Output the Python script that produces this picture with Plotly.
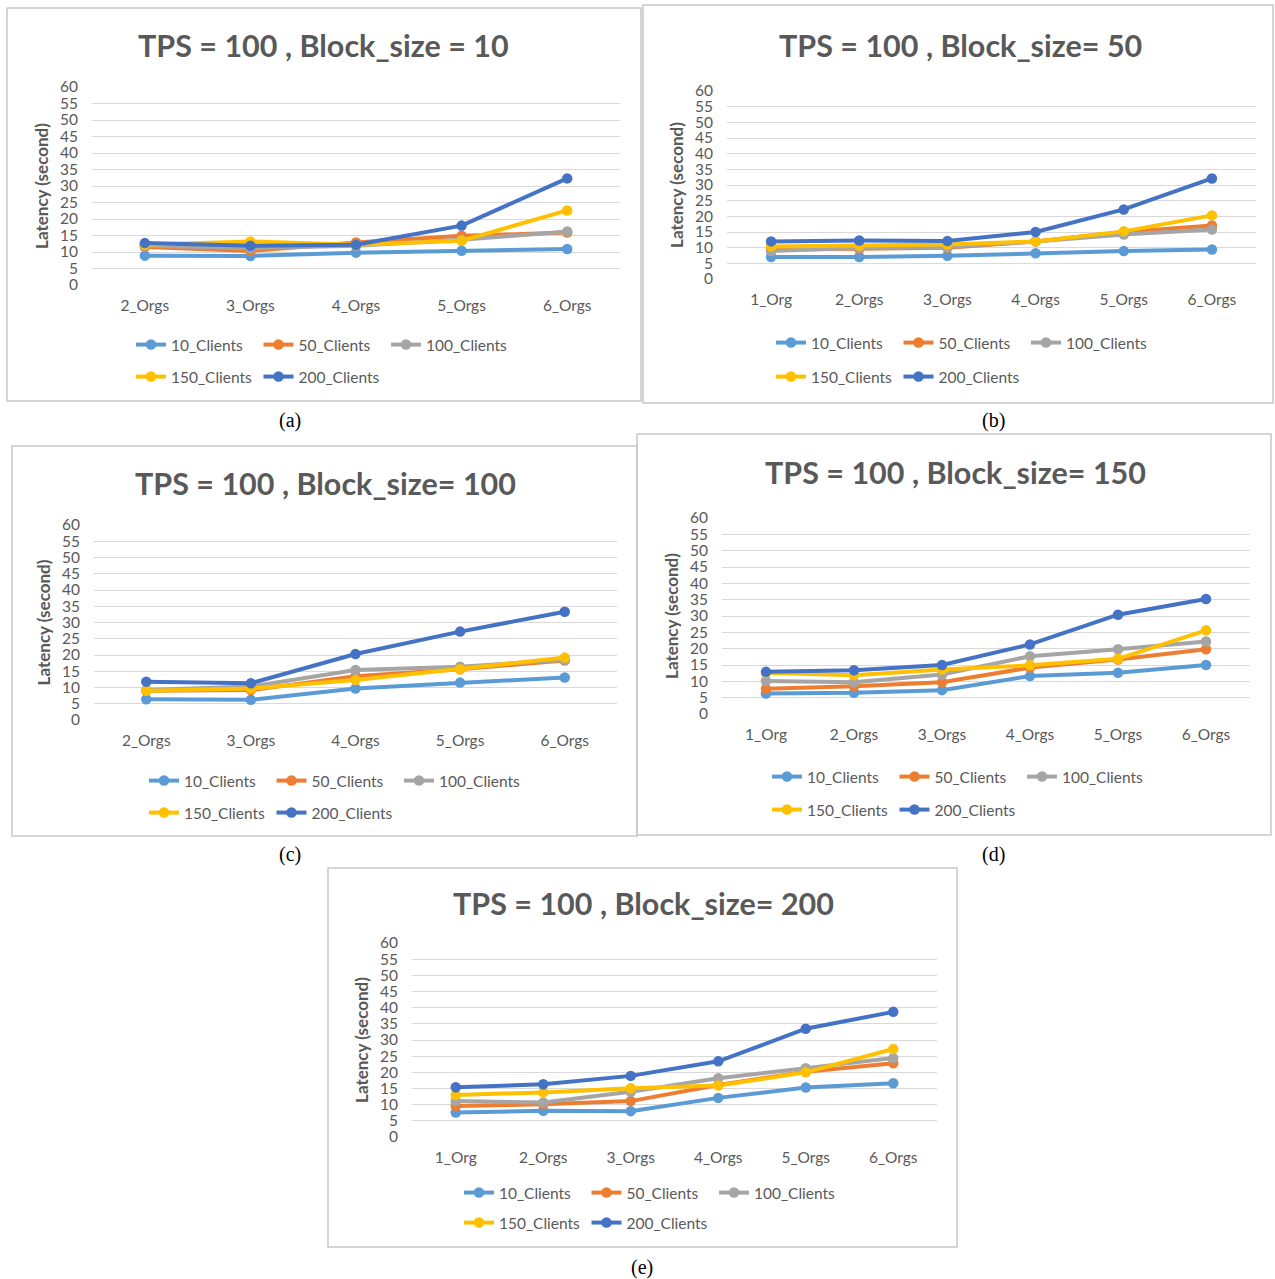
import plotly.graph_objects as go

W, H = 1275, 1279

# ---------------- data ----------------
orgs5 = ["2_Orgs", "3_Orgs", "4_Orgs", "5_Orgs", "6_Orgs"]
orgs6 = ["1_Org", "2_Orgs", "3_Orgs", "4_Orgs", "5_Orgs", "6_Orgs"]
series_names = ["10_Clients", "50_Clients", "100_Clients", "150_Clients", "200_Clients"]
y_ticks = [0, 5, 10, 15, 20, 25, 30, 35, 40, 45, 50, 55, 60]

# (a) Block_size = 10
a_10c = [8.9, 8.8, 9.8, 10.4, 10.9]
a_50c = [11.5, 10.3, 12.9, 14.9, 15.9]
a_100c = [11.9, 11.2, 11.9, 13.7, 16.2]
a_150c = [12.2, 13.2, 12.2, 13.4, 22.6]
a_200c = [12.7, 11.9, 12.2, 18.0, 32.3]

# (b) Block_size = 50
b_10c = [7.0, 7.0, 7.4, 8.2, 8.9, 9.4]
b_50c = [9.3, 9.6, 10.0, 12.0, 15.0, 17.1]
b_100c = [8.9, 10.0, 10.2, 12.0, 14.2, 15.8]
b_150c = [10.4, 10.7, 11.0, 12.0, 15.2, 20.3]
b_200c = [12.0, 12.3, 12.1, 15.0, 22.2, 32.1]

# (c) Block_size = 100
c_10c = [6.4, 6.2, 9.7, 11.5, 13.1]
c_50c = [9.0, 9.2, 13.5, 15.6, 18.3]
c_100c = [9.2, 10.3, 15.4, 16.4, 18.5]
c_150c = [9.0, 9.7, 12.3, 15.6, 19.2]
c_200c = [11.8, 11.3, 20.3, 27.2, 33.3]

# (d) Block_size = 150
d_10c = [6.3, 6.5, 7.3, 11.6, 12.6, 15.0]
d_50c = [7.7, 8.5, 9.7, 14.2, 16.7, 19.8]
d_100c = [10.1, 9.7, 12.1, 17.7, 19.8, 22.2]
d_150c = [12.6, 11.9, 13.6, 14.9, 16.9, 25.6]
d_200c = [12.9, 13.4, 15.0, 21.3, 30.4, 35.2]

# (e) Block_size = 200
e_10c = [7.6, 8.1, 8.0, 12.1, 15.3, 16.6]
e_50c = [9.6, 10.1, 11.1, 16.1, 20.2, 22.8]
e_100c = [11.1, 10.7, 14.0, 18.2, 21.3, 24.4]
e_150c = [13.0, 13.8, 15.1, 15.9, 20.0, 27.2]
e_200c = [15.4, 16.3, 18.9, 23.4, 33.5, 38.7]

colors = ["#5B9BD5", "#ED7D31", "#A5A5A5", "#FFC000", "#4472C4"]
GRAY = "#595959"
FONT = "Lato"

panels = [
    dict(label="(a)", title="TPS = 100 , Block_size = 10", cats=orgs5,
         data=[a_10c, a_50c, a_100c, a_150c, a_200c],
         box=(7, 8, 641, 401), plot=(92, 87, 620, 285), title_xy=(324, 45),
         leg1=(137, 345), leg2=(137, 377), cap=(290, 420)),
    dict(label="(b)", title="TPS = 100 , Block_size= 50", cats=orgs6,
         data=[b_10c, b_50c, b_100c, b_150c, b_200c],
         box=(643, 5, 1273, 403), plot=(727, 91, 1256, 279), title_xy=(960, 45),
         leg1=(777, 343), leg2=(777, 377), cap=(993, 420)),
    dict(label="(c)", title="TPS = 100 , Block_size= 100", cats=orgs5,
         data=[c_10c, c_50c, c_100c, c_150c, c_200c],
         box=(12, 446, 637, 836), plot=(94, 525, 617, 720), title_xy=(325, 483),
         leg1=(150, 781), leg2=(150, 813), cap=(290, 855)),
    dict(label="(d)", title="TPS = 100 , Block_size= 150", cats=orgs6,
         data=[d_10c, d_50c, d_100c, d_150c, d_200c],
         box=(637, 434, 1271, 835), plot=(722, 518, 1250, 714), title_xy=(955, 472),
         leg1=(773, 777), leg2=(773, 810), cap=(993, 855)),
    dict(label="(e)", title="TPS = 100 , Block_size= 200", cats=orgs6,
         data=[e_10c, e_50c, e_100c, e_150c, e_200c],
         box=(328, 868, 957, 1247), plot=(412, 943, 937, 1137), title_xy=(643, 903),
         leg1=(465, 1193), leg2=(465, 1223), cap=(642, 1267)),
]


def px(x):
    return x / W


def py(y):
    return 1 - y / H


fig = go.Figure()
shapes = []
annotations = []
layout = dict(
    width=W, height=H, margin=dict(l=0, r=0, t=0, b=0, pad=0, autoexpand=False),
    paper_bgcolor="white", plot_bgcolor="rgba(0,0,0,0)",
    showlegend=True,
)

leg_idx = 0
for i, p in enumerate(panels):
    n = i + 1
    xa = "x" if n == 1 else f"x{n}"
    ya = "y" if n == 1 else f"y{n}"
    xkey = "xaxis" if n == 1 else f"xaxis{n}"
    ykey = "yaxis" if n == 1 else f"yaxis{n}"
    l, t, r, b = p["plot"]
    layout[xkey] = dict(
        domain=[px(l), px(r)], anchor=ya, range=[-0.5, len(p["cats"]) - 0.5],
        type="category", showgrid=False, zeroline=False, showline=False,
        ticks="", tickfont=dict(family=FONT, size=15.5, color=GRAY),
        ticklabelstandoff=9, fixedrange=True, automargin=False,
    )
    layout[ykey] = dict(
        domain=[py(b), py(t)], anchor=xa, range=[0, 60], tickvals=y_ticks,
        showgrid=True, gridcolor="#D9D9D9", gridwidth=1.3, zeroline=False,
        showline=False, ticks="", tickfont=dict(family=FONT, size=15.5, color=GRAY),
        ticklabelstandoff=13, automargin=False,
        title=dict(text="<b>Latency (second)</b>", standoff=7,
                   font=dict(family=FONT, size=17, color=GRAY)),
        fixedrange=True,
    )
    # legends: two rows
    lg1 = f"legend{leg_idx + 1}" if leg_idx > 0 else "legend"
    lg2 = f"legend{leg_idx + 2}"
    leg_idx += 2
    for key, (lx, ly) in ((lg1, p["leg1"]), (lg2, p["leg2"])):
        layout[key] = dict(
            orientation="h", x=px(lx - 6), y=py(ly), xanchor="left", yanchor="middle",
            xref="paper", yref="paper", bgcolor="rgba(0,0,0,0)",
            font=dict(family=FONT, size=15.5, color=GRAY),
            entrywidth=82.5, entrywidthmode="pixels", tracegroupgap=0,
            itemclick=False, itemdoubleclick=False,
        )
    for s, (name, vals, col) in enumerate(zip(series_names, p["data"], colors)):
        fig.add_trace(go.Scatter(
            x=p["cats"], y=vals, name=name, mode="lines+markers",
            line=dict(color=col, width=4), marker=dict(color=col, size=10.5),
            xaxis=xa, yaxis=ya, legend=lg1 if s < 3 else lg2,
            hoverinfo="x+y+name",
        ))
    # border box
    bl, bt, br, bb = p["box"]
    shapes.append(dict(type="rect", xref="paper", yref="paper",
                       x0=px(bl), x1=px(br), y0=py(bb), y1=py(bt),
                       line=dict(color="#C8C8C8", width=1.5), fillcolor="rgba(0,0,0,0)",
                       layer="below"))
    # title
    tx, ty = p["title_xy"]
    annotations.append(dict(text=f"<b>{p['title']}</b>", x=px(tx), y=py(ty),
                            xref="paper", yref="paper", showarrow=False,
                            xanchor="center", yanchor="middle",
                            font=dict(family=FONT, size=30.5, color=GRAY)))
    # caption
    cx, cy = p["cap"]
    annotations.append(dict(text=p["label"], x=px(cx), y=py(cy),
                            xref="paper", yref="paper", showarrow=False,
                            xanchor="center", yanchor="middle",
                            font=dict(family="Liberation Serif", size=20, color="black")))

layout["shapes"] = shapes
layout["annotations"] = annotations
fig.update_layout(**layout)

post = (
    "document.documentElement.style.margin='0';"
    "document.body.style.margin='0';"
    "document.body.style.overflow='hidden';"
    "var gd=document.getElementById('{plot_id}');"
    "gd.style.position='absolute';gd.style.left='0px';gd.style.top='0px';"
)
fig.write_html("out.html", post_script=post, config={"displayModeBar": False})
